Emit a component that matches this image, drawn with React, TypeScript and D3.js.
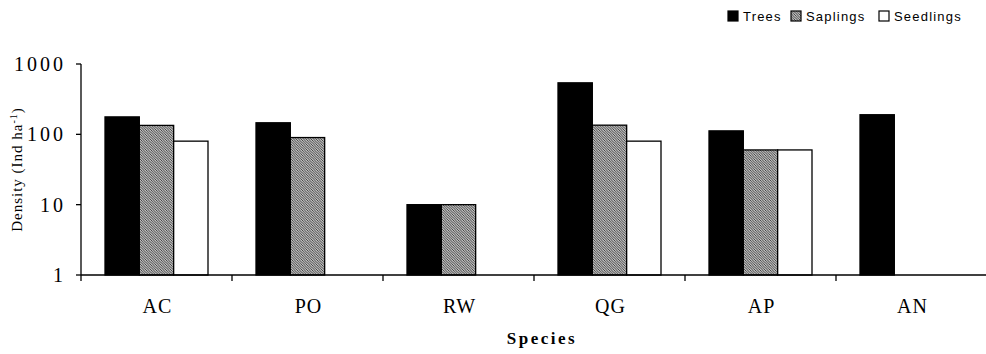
import React from 'react';
import * as d3 from 'd3';

// species on the x axis
const species = ['AC', 'PO', 'RW', 'QG', 'AP', 'AN'];
const series = ['Trees', 'Saplings', 'Seedlings'];

// densities (Ind ha-1), null = not recorded
const trees = [177, 146, 10, 540, 112, 190];
const saplings = [134, 90, 10, 135, 60, null];
const seedlings = [80, null, null, 80, 60, null];

const yTicks = [1, 10, 100, 1000];

const W = 986;
const H = 354;

const App = () => {
  const margin = { top: 64, left: 81, bottom: 275, right: 987 };

  const x = d3.scaleBand().domain(species).range([margin.left, margin.right]);
  const x1 = d3.scaleBand().domain(series).range([24, x.bandwidth() - 24]);
  const y = d3.scaleLog().domain([1, 1000]).range([margin.bottom, margin.top]);

  const values = { Trees: trees, Saplings: saplings, Seedlings: seedlings };
  const fills = { Trees: '#000', Saplings: 'url(#hatch)', Seedlings: '#fff' };

  const serif = '"Liberation Serif", "Times New Roman", serif';
  const sans = '"Liberation Sans", Arial, sans-serif';

  // legend layout
  const legend = [
    { key: 'Trees', box: 728, text: 743 },
    { key: 'Saplings', box: 791, text: 806 },
    { key: 'Seedlings', box: 879, text: 894 },
  ];

  return (
    <svg width={W} height={H} style={{ position: 'absolute', left: 0, top: 0 }}>
      <defs>
        <pattern id="hatch" patternUnits="userSpaceOnUse" width="2.5" height="2.5">
          <rect width="2.5" height="2.5" fill="#fff" />
          <path d="M-1,-1 L3.5,3.5 M-1,1.5 L1,3.5 M1.5,-1 L3.5,1" stroke="#222" strokeWidth="0.9" />
        </pattern>
      </defs>

      {/* bars */}
      {species.map((sp, i) => (
        <g key={sp} transform={`translate(${x(sp)},0)`}>
          {series.map(s => {
            const v = values[s][i];
            if (v == null) return null;
            return (
              <rect
                key={s}
                x={x1(s)}
                y={y(v)}
                width={x1.bandwidth()}
                height={y(1) - y(v)}
                fill={fills[s]}
                stroke="#000"
                strokeWidth={1.3}
              />
            );
          })}
        </g>
      ))}

      {/* y axis */}
      <line x1={margin.left} x2={margin.left} y1={y(1000)} y2={y(1)} stroke="#000" strokeWidth={1.3} />
      {yTicks.map(t => (
        <g key={t}>
          <line x1={margin.left - 5} x2={margin.left} y1={y(t)} y2={y(t)} stroke="#000" strokeWidth={1.3} />
          <text
            x={66}
            y={y(t)}
            dy="0.35em"
            textAnchor="end"
            fontFamily={serif}
            fontSize={20}
            letterSpacing={3}
          >
            {t}
          </text>
        </g>
      ))}

      {/* x axis */}
      <line x1={margin.left} x2={W} y1={y(1)} y2={y(1)} stroke="#000" strokeWidth={1.3} />
      {species.map(sp => (
        <g key={sp}>
          <line x1={x(sp)} x2={x(sp)} y1={y(1)} y2={y(1) + 6} stroke="#000" strokeWidth={1.3} />
          <text
            x={x(sp) + x.bandwidth() / 2 + 1}
            y={313}
            textAnchor="middle"
            fontFamily={serif}
            fontSize={20}
            letterSpacing={1}
          >
            {sp}
          </text>
        </g>
      ))}

      {/* axis titles */}
      <text
        x={542}
        y={344}
        textAnchor="middle"
        fontFamily={serif}
        fontSize={17}
        fontWeight="bold"
        letterSpacing={2.5}
      >
        Species
      </text>
      <text
        transform={`translate(22,${(y(1) + y(1000)) / 2}) rotate(-90)`}
        textAnchor="middle"
        fontFamily={serif}
        fontSize={15}
        letterSpacing={1}
      >
        Density (Ind ha<tspan dy="-5" fontSize={10}>-1</tspan><tspan dy="5">)</tspan>
      </text>

      {/* legend */}
      {legend.map(l => (
        <g key={l.key}>
          <rect x={l.box} y={11} width={10} height={10} fill={fills[l.key]} stroke="#000" strokeWidth={1.2} />
          <text x={l.text} y={20.5} fontFamily={sans} fontSize={13} letterSpacing={1.2}>
            {l.key}
          </text>
        </g>
      ))}
    </svg>
  );
};

export default App;
